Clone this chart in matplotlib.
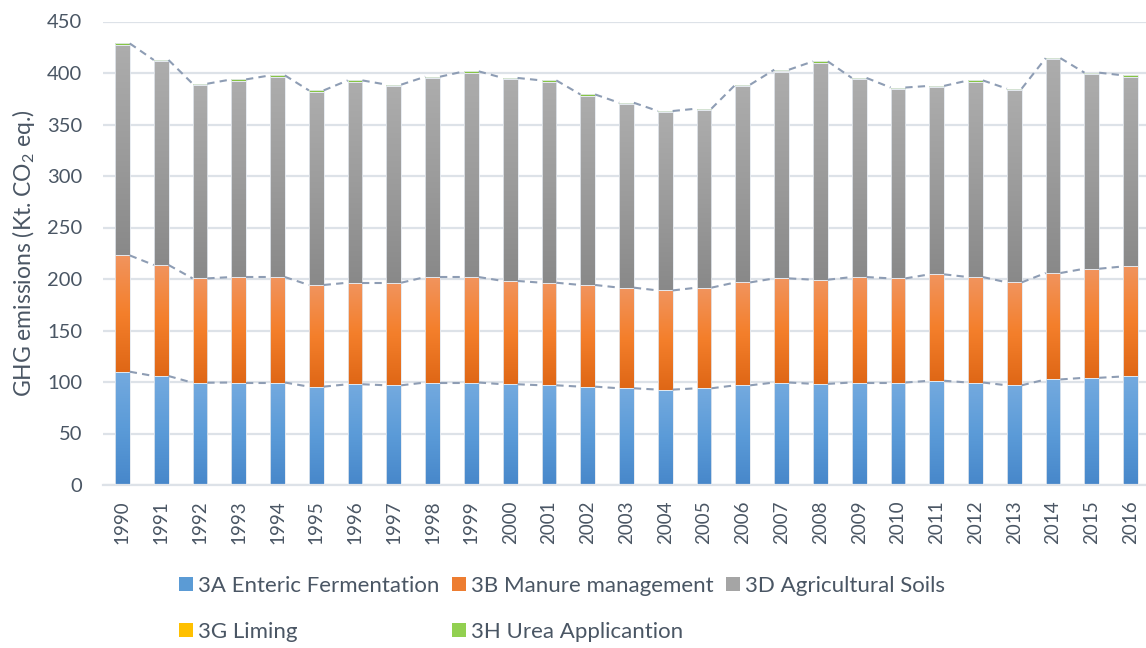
import numpy as np
import matplotlib
matplotlib.use('Agg')
import matplotlib.pyplot as plt
from matplotlib.colors import LinearSegmentedColormap
from matplotlib.patches import Patch

plt.rcParams['font.family'] = ['Lato', 'DejaVu Sans']
plt.rcParams['mathtext.default'] = 'regular'

years = [str(y) for y in range(1990, 2017)]

enteric = [110.0, 105.8, 99.3, 99.5, 99.5, 95.5, 97.8, 96.8, 99.5, 99.5, 97.8, 96.8, 95.5, 93.9,
           92.6, 93.9, 96.8, 99.5, 98.2, 99.5, 99.5, 101.2, 99.5, 96.8, 102.5, 104.1, 105.4]
manure = [112.9, 107.8, 101.3, 102.4, 102.4, 98.7, 98.6, 99.6, 102.4, 102.4, 100.3, 99.6, 98.7, 97.7,
          96.3, 97.7, 99.9, 101.1, 101.1, 102.4, 101.1, 103.3, 102.4, 99.9, 103.3, 105.9, 106.8]
soils = [204.6, 197.8, 187.8, 190.7, 194.6, 187.7, 195.2, 191.1, 193.3, 198.5, 195.9, 195.2, 183.8, 178.3,
         173.0, 172.6, 190.8, 199.9, 210.8, 192.1, 184.1, 181.8, 189.7, 186.9, 207.4, 189.1, 184.3]
liming = [0.0, 0.0, 0.0, 0.0, 0.0, 0.0, 0.0, 0.0, 0.0, 0.0, 0.0, 0.0, 0.0, 0.0,
          0.0, 0.0, 0.0, 1.5, 0.0, 0.0, 0.0, 0.0, 0.0, 0.0, 0.0, 0.0, 0.0]
urea = [1.2] * 27

labels = ['3A Enteric Fermentation', '3B Manure management', '3D Agricultural Soils',
          '3G Liming', '3H Urea Applicantion']
# gradient stops (bottom -> top) and legend colour for each series
gradients = [['#4787CA', '#5B9BD8', '#74AADF'],
             ['#DF6716', '#F47F2B', '#F1945E'],
             ['#898989', '#9C9C9C', '#ADADAD'],
             ['#E8A800', '#FFC000', '#FFD040'],
             ['#7CB83A', '#92D050', '#A6DC6A']]
legend_colors = ['#5B9BD5', '#ED7D31', '#A5A5A5', '#FFC000', '#92D050']
# which series get a dashed series line on top
series_lines = [True, True, False, False, True]

text_color = '#4A5664'
grid_color = '#DDE2E8'

fig = plt.figure(figsize=(11.46, 6.48), dpi=100)
ax = fig.add_axes([103 / 1146, 163 / 648, 1047 / 1146, 463.5 / 648])

x = np.arange(len(years))
width = 0.38
series = [enteric, manure, soils, liming, urea]
bottom = np.zeros(len(years))
grad = np.linspace(0, 1, 256).reshape(-1, 1)

for vals, stops, sl in zip(series, gradients, series_lines):
    vals = np.array(vals)
    cmap = LinearSegmentedColormap.from_list('g', stops)
    bars = ax.bar(x, vals, width, bottom=bottom, color='none', edgecolor='#E4E9EF', linewidth=0.6, zorder=3)
    for rect, h in zip(bars, vals):
        if h <= 0:
            continue
        x0 = rect.get_x()
        y0 = rect.get_y()
        im = ax.imshow(grad, cmap=cmap, origin='lower', aspect='auto', zorder=2,
                       extent=[x0, x0 + rect.get_width(), y0, y0 + h])
        im.set_clip_path(rect)
    bottom = bottom + vals
    if not sl:
        continue
    # series lines between neighbouring bars
    for i in range(len(years) - 1):
        ax.plot([x[i] + width / 2, x[i + 1] - width / 2], [bottom[i], bottom[i + 1]],
                color='#8E9DB4', lw=1.5, ls=(0, (3.5, 2.5)), zorder=4)

ax.set_xlim(-0.5, 26.5)
ax.set_ylim(0, 450)
ax.set_yticks(range(0, 451, 50))
ax.set_xticks(x)
ax.set_xticklabels(years, rotation=90)
ax.tick_params(axis='y', length=0, pad=15, labelsize=14.5, labelcolor=text_color)
ax.tick_params(axis='x', length=0, pad=11, labelsize=13.5, labelcolor=text_color)
ax.yaxis.grid(True, color=grid_color, lw=1.6)
ax.set_axisbelow(True)
for s in ['top', 'right', 'left']:
    ax.spines[s].set_visible(False)
ax.spines['bottom'].set_color(grid_color)
ax.spines['bottom'].set_linewidth(1.6)

fig.text(24 / 1146, 1 - 253 / 648, 'GHG emissions (Kt. CO$_2$ eq.)', rotation=90,
         ha='center', va='center', fontsize=16.5, color=text_color)

handles = [Patch(facecolor=c) for c in legend_colors]
order = [0, 3, 1, 4, 2]
fig.legend([handles[i] for i in order], [labels[i] for i in order], ncol=3,
           loc='upper left', bbox_to_anchor=(179 / 1146, 1 - 576 / 648), frameon=False,
           fontsize=16, labelcolor=text_color, handlelength=0.62, handleheight=0.62,
           handletextpad=0.25, columnspacing=0.55, labelspacing=1.15, borderpad=0, borderaxespad=0)

fig.savefig('out.png', dpi=100)
